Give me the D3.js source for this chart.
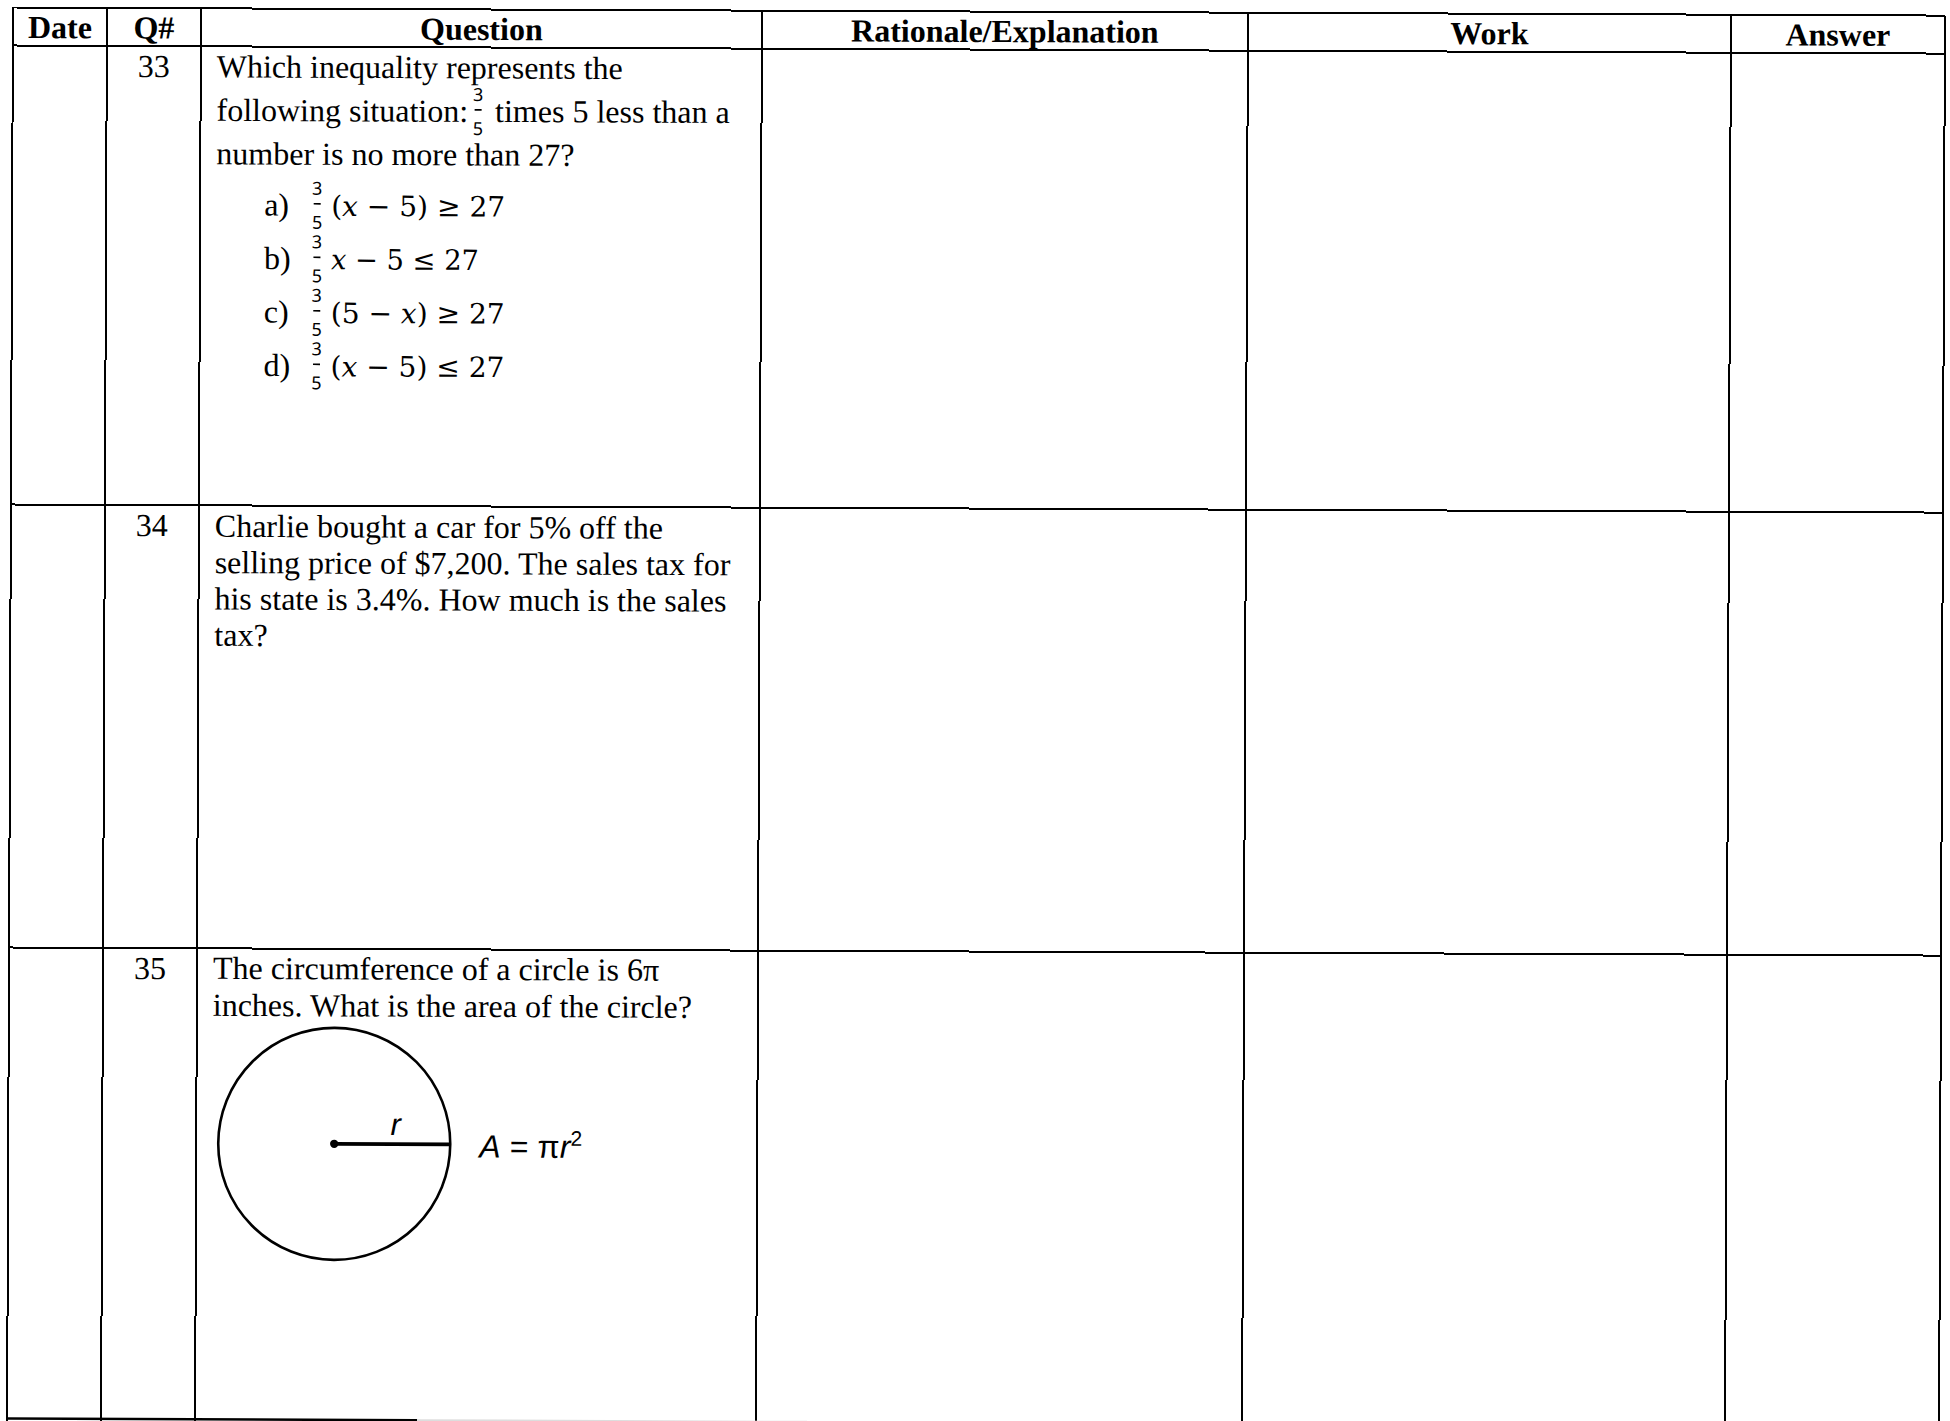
<!DOCTYPE html>
<html><head><meta charset="utf-8">
<script src="https://cdn.jsdelivr.net/npm/d3@7"></script>
<style>html,body{margin:0;padding:0;background:#fff}</style>
</head><body>
<svg id="c" width="1950" height="1421"></svg>
<script>
// ---------- content ----------
const headers = ["Date", "Q#", "Question", "Rationale/Explanation", "Work", "Answer"];
const questionNumbers = ["33", "34", "35"];
const q33Stem1 = "Which inequality represents the";
const q33Stem2a = "following situation:";
const q33Stem2b = "times 5 less than a";
const q33Stem3 = "number is no more than 27?";
const fracNum = "3";
const fracDen = "5";
const optionLabels = ["a)", "b)", "c)", "d)"];
const optionExprs = ["(x \u2212 5) \u2265 27", "x \u2212 5 \u2264 27", "(5 \u2212 x) \u2265 27", "(x \u2212 5) \u2264 27"];
const q34Lines = ["Charlie bought a car for 5% off the", "selling price of $7,200. The sales tax for", "his state is 3.4%. How much is the sales", "tax?"];
const q35Lines = ["The circumference of a circle is 6\u03c0", "inches. What is the area of the circle?"];
const radiusLabel = "r";

// ---------- layout ----------
const L = {
  ox: 13, oy: 7.5, angle: 0.24,
  cols: [0, 94, 188, 749, 1235, 1718, 1932],
  rows: [0, 38, 497, 940],
  bottom: 1440,
  serif: "'Liberation Serif','Times New Roman',serif",
  math: "'DejaVu Serif',serif",
  sans: "'Liberation Sans',Arial,sans-serif",
  fs: 32
};

const svg = d3.select("#c");
svg.append("rect").attr("width", 1950).attr("height", 1421).attr("fill", "#fff");
const g = svg.append("g").attr("transform", `translate(${L.ox},${L.oy}) rotate(${L.angle})`);

// grid lines
const gl = g.append("g").attr("stroke", "#000").attr("stroke-width", 2).attr("shape-rendering", "crispEdges");
gl.selectAll("line.h").data(L.rows).join("line").attr("class", "h")
  .attr("x1", 0).attr("x2", L.cols[L.cols.length - 1]).attr("y1", d => d).attr("y2", d => d);
gl.selectAll("line.v").data(L.cols).join("line").attr("class", "v")
  .attr("x1", d => d).attr("x2", d => d).attr("y1", 0).attr("y2", L.bottom);
// partial bottom edge visible at page edge
g.append("line").attr("x1", 0).attr("x2", 410).attr("y1", 1411).attr("y2", 1411).attr("stroke", "#000").attr("stroke-width", 2.5);
g.append("line").attr("x1", 410).attr("x2", 800).attr("y1", 1411).attr("y2", 1411).attr("stroke", "#ddd").attr("stroke-width", 2);

// headers
const colMid = i => (L.cols[i] + L.cols[i + 1]) / 2;
g.append("g").selectAll("text").data(headers).join("text")
  .attr("x", (d, i) => colMid(i)).attr("y", 30.5)
  .attr("text-anchor", "middle").attr("font-family", L.serif).attr("font-weight", "bold")
  .attr("font-size", L.fs).attr("fill", "#000").text(d => d);

// question numbers
g.append("g").selectAll("text").data(questionNumbers).join("text")
  .attr("x", colMid(1)).attr("y", (d, i) => L.rows[i + 1] + 31)
  .attr("text-anchor", "middle").attr("font-family", L.serif).attr("font-size", L.fs).attr("fill", "#000").text(d => d);

const tx = 204;
function txt(parent, s, x, y, opts = {}) {
  return parent.append("text").attr("x", x).attr("y", y)
    .attr("font-family", opts.family || L.serif).attr("font-size", opts.size || L.fs)
    .attr("font-style", opts.italic ? "italic" : null)
    .attr("text-anchor", opts.anchor || null).attr("fill", "#000").text(s);
}
function fraction(parent, cx, base) {
  txt(parent, fracNum, cx, base - 21, {family: "'Noto Sans',sans-serif", size: 18, anchor: "middle"});
  parent.append("line").attr("x1", cx - 3.5).attr("x2", cx + 3.5).attr("y1", base - 12).attr("y2", base - 12)
    .attr("stroke", "#000").attr("stroke-width", 1.7);
  txt(parent, fracDen, cx, base + 13, {family: "'Noto Sans',sans-serif", size: 18, anchor: "middle"});
}

// Q33
const q33 = g.append("g");
txt(q33, q33Stem1, tx, 69);
const t2 = txt(q33, q33Stem2a, tx, 112.5);
const w2 = t2.node().getComputedTextLength();
fraction(q33, tx + w2 + 10, 112.5);
txt(q33, q33Stem2b, tx + w2 + 27, 112.5);
txt(q33, q33Stem3, tx, 156);

const optY = [207, 260.5, 314, 367.5];
const optW = [174, 148, 174, 174];
optionLabels.forEach((lab, i) => {
  txt(q33, lab, 252, optY[i]);
  fraction(q33, 305, optY[i]);
  const t = q33.append("text").attr("x", 319).attr("y", optY[i])
    .attr("font-family", L.math).attr("font-size", 28).attr("fill", "#000")
    .attr("textLength", optW[i]).attr("lengthAdjust", "spacingAndGlyphs");
  optionExprs[i].split(/(x)/).filter(s => s.length).forEach(part => {
    t.append("tspan").attr("font-style", part === "x" ? "italic" : null).text(part);
  });
});

// Q34
const q34 = g.append("g");
q34Lines.forEach((s, i) => txt(q34, s, tx, 528.5 + i * 36.3));

// Q35
const q35 = g.append("g");
q35Lines.forEach((s, i) => txt(q35, s, tx, 970.5 + i * 37));
const cx = 326, cy = 1135, r = 116;
q35.append("circle").attr("cx", cx).attr("cy", cy).attr("r", r)
  .attr("fill", "none").attr("stroke", "#000").attr("stroke-width", 2.6);
q35.append("line").attr("x1", cx).attr("x2", cx + r).attr("y1", cy).attr("y2", cy)
  .attr("stroke", "#000").attr("stroke-width", 3.6);
q35.append("circle").attr("cx", cx).attr("cy", cy).attr("r", 4.2).attr("fill", "#000");
txt(q35, radiusLabel, cx + r * 0.53, cy - 9, {family: L.sans, size: 31, italic: true, anchor: "middle"});
const f = q35.append("text").attr("x", 471).attr("y", cy + 13)
  .attr("font-family", L.sans).attr("font-size", 32).attr("fill", "#000")
  .attr("textLength", 103).attr("lengthAdjust", "spacing");
f.append("tspan").attr("font-style", "italic").text("A");
f.append("tspan").text(" = \u03c0");
f.append("tspan").attr("font-style", "italic").text("r");
f.append("tspan").attr("font-size", 21).attr("dy", -12).text("2");
</script>
</body></html>
